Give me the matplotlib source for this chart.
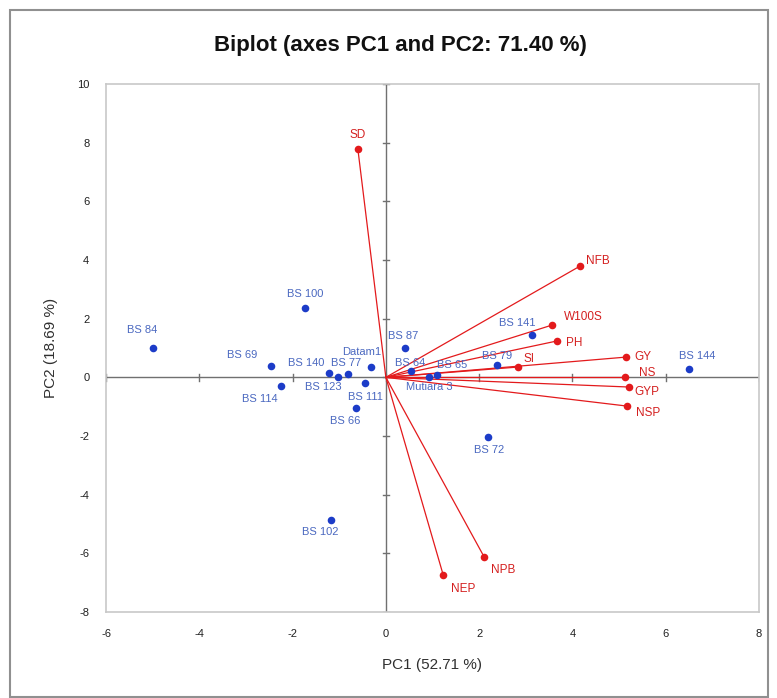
import matplotlib
matplotlib.use("Agg")
import matplotlib.pyplot as plt
from matplotlib.patches import Rectangle

plt.rcParams['font.family'] = ['Liberation Sans', 'DejaVu Sans']
plt.rcParams['axes.unicode_minus'] = False

# Observations (blue)
obs_names = ["BS 84", "BS 100", "BS 69", "BS 114", "BS 140", "BS 123", "BS 77",
             "Datam1", "BS 111", "BS 66", "BS 87", "BS 64", "BS 65", "Mutiara 3",
             "BS 79", "BS 141", "BS 144", "BS 72", "BS 102"]
obs_x = [-4.99, -1.73, -2.46, -2.25, -1.22, -1.02, -0.81, -0.32, -0.45, -0.64,
         0.41, 0.54, 1.10, 0.93, 2.38, 3.13, 6.50, 2.20, -1.18]
obs_y = [1.00, 2.36, 0.39, -0.30, 0.15, 0.01, 0.11, 0.35, -0.19, -1.05,
         1.00, 0.21, 0.08, 0.01, 0.42, 1.44, 0.28, -2.04, -4.87]

# Variables (red)
var_names = ["SD", "NFB", "W100S", "PH", "GY", "NS", "GYP", "NSP", "SI", "NPB", "NEP"]
var_x = [-0.60, 4.16, 3.56, 3.67, 5.15, 5.13, 5.21, 5.17, 2.83, 2.11, 1.23]
var_y = [7.78, 3.79, 1.78, 1.24, 0.69, 0.00, -0.33, -0.98, 0.35, -6.13, -6.74]

# label offsets (pixels)
obs_off = [(-11, 18), (0, 14), (-29, 11), (-21, -13), (-23, 10), (-15, -10), (-2, 11),
           (-9, 15), (1, -14), (-11, -13), (-2, 12), (-1, 8), (15, 10), (0, -10),
           (0, 9), (-15, 12), (8, 13), (1, -13), (-11, -12)]
var_off = [(0, 14), (18, 5), (31, 8), (17, -2), (17, 0), (22, 4), (18, -5), (21, -7),
           (11, 8), (19, -13), (20, -14)]

fig = plt.figure(figsize=(7.77, 6.98), dpi=100)
ax = fig.add_axes([106/777, 1-612/698, (759-106)/777, (612-84)/698])

ax.set_xlim(-6, 8)
ax.set_ylim(-8, 10)

blue = '#1c3cc8'
blue_txt = '#4a68c0'
red = '#e31a1c'
red_txt = '#d42020'

# center axes
ax.axhline(0, color='#707070', lw=1.0, zorder=1)
ax.axvline(0, color='#707070', lw=1.0, zorder=1)
for t in range(-6, 9, 2):
    ax.plot([t, t], [-0.12, 0.12], color='#707070', lw=1.0, zorder=1)
for t in range(-8, 11, 2):
    ax.plot([-0.07, 0.07], [t, t], color='#707070', lw=1.0, zorder=1)

for x, y in zip(var_x, var_y):
    ax.plot([0, x], [0, y], color=red, lw=0.9, zorder=2)
ax.scatter(var_x, var_y, s=30, color=red, zorder=3, linewidths=0)
ax.scatter(obs_x, obs_y, s=30, color=blue, zorder=4, linewidths=0)

for n, x, y, (dx, dy) in zip(obs_names, obs_x, obs_y, obs_off):
    ax.annotate(n, (x, y), xytext=(dx, dy), textcoords='offset pixels',
                ha='center', va='center', fontsize=8, color=blue_txt, zorder=5)
for n, x, y, (dx, dy) in zip(var_names, var_x, var_y, var_off):
    ax.annotate(n, (x, y), xytext=(dx, dy), textcoords='offset pixels',
                ha='center', va='center', fontsize=8.5, color=red_txt, zorder=5)

ax.set_xticks(range(-6, 9, 2))
ax.set_yticks(range(-8, 11, 2))
ax.tick_params(length=0, labelsize=8, colors='#202020', pad=12)
for s in ax.spines.values():
    s.set_color('#c8c8c8')
    s.set_linewidth(1.2)

ax.set_xlabel("PC1 (52.71 %)", fontsize=11, color='#303030', labelpad=14)
ax.set_ylabel("PC2 (18.69 %)", fontsize=11, color='#303030', labelpad=14)
fig.text(0.515, 1-45/698, "Biplot (axes PC1 and PC2: 71.40 %)", ha='center', va='center',
         fontsize=16, fontweight='bold', color='#111111')

fig.patches.append(Rectangle((10/777, 0.002), (768-10)/777, 1-10/698-0.002,
                             transform=fig.transFigure, fill=False,
                             edgecolor='#909090', lw=1.5))

fig.savefig("out.png", dpi=100)
